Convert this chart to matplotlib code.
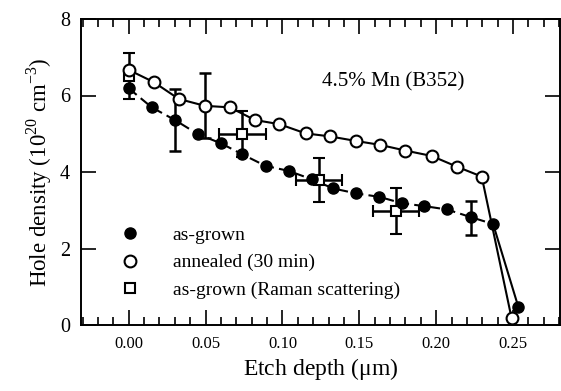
import numpy as np
import matplotlib
matplotlib.use('Agg')
import matplotlib.pyplot as plt
from matplotlib.lines import Line2D

plt.rcParams['font.family'] = ['Liberation Serif', 'DejaVu Serif']
plt.rcParams['mathtext.fontset'] = 'custom'
plt.rcParams['mathtext.rm'] = 'Liberation Serif'

# as-grown (filled circles, dashed line)
grown_x = [0.000, 0.015, 0.030, 0.045, 0.060, 0.074, 0.089, 0.104, 0.119,
           0.133, 0.148, 0.163, 0.178, 0.192, 0.207, 0.2225, 0.237, 0.2535]
grown_y = [6.19, 5.69, 5.36, 4.99, 4.75, 4.46, 4.16, 4.03, 3.81,
           3.57, 3.44, 3.35, 3.18, 3.11, 3.02, 2.82, 2.64, 0.46]

# annealed 30 min (open circles, solid line)
ann_x = [0.000, 0.0163, 0.0326, 0.0495, 0.0658, 0.082, 0.098, 0.115, 0.131,
         0.148, 0.1634, 0.180, 0.197, 0.2134, 0.2296, 0.249]
ann_y = [6.67, 6.35, 5.91, 5.73, 5.69, 5.36, 5.25, 5.01, 4.93,
         4.81, 4.71, 4.56, 4.42, 4.14, 3.88, 0.18]

# as-grown, Raman scattering (open squares with error bars)
raman_x = [0.000, 0.074, 0.124, 0.174]
raman_y = [6.50, 5.00, 3.79, 2.97]
raman_xerr = [0.0, 0.015, 0.015, 0.015]
raman_yerr = [0.60, 0.60, 0.58, 0.60]

# extra error bars on the Hall data
eb_x = [0.0304, 0.0495, 0.2225]
eb_y = [5.36, 5.74, 2.80]
eb_err = [0.80, 0.85, 0.45]

fig = plt.figure(figsize=(5.61, 3.91), dpi=100)
ax = fig.add_axes([81/561, 66/391, 479/561, 306/391])

lw = 1.5
ax.plot(grown_x[:-1], grown_y[:-1], color='k', lw=lw, dashes=(5, 2.5), zorder=2)
ax.plot(grown_x[-2:], grown_y[-2:], color='k', lw=lw, zorder=2)
ax.plot(ann_x, ann_y, color='k', lw=lw, zorder=2)

ax.errorbar(eb_x, eb_y, yerr=eb_err, fmt='none', ecolor='k', elinewidth=1.8,
            capsize=4.5, capthick=1.8, zorder=3)
ax.errorbar(raman_x, raman_y, xerr=raman_xerr, yerr=raman_yerr, fmt='s',
            ms=7, mfc='white', mec='k', mew=1.5, ecolor='k', elinewidth=1.8,
            capsize=4.5, capthick=1.8, zorder=4)

ax.plot(grown_x, grown_y, 'o', ms=8, mfc='k', mec='k', zorder=5)
ax.plot(ann_x, ann_y, 'o', ms=8.5, mfc='white', mec='k', mew=1.5, zorder=5)

ax.set_xlim(-0.031, 0.2805)
ax.set_ylim(0, 8)
ax.set_xticks(np.arange(0, 0.26, 0.05))
ax.set_xticks(np.arange(-0.03, 0.281, 0.01), minor=True)
ax.set_yticks([0, 2, 4, 6, 8])
ax.set_xticklabels(['0.00', '0.05', '0.10', '0.15', '0.20', '0.25'])

ax.tick_params(which='both', direction='in', top=True, right=True, width=1.2)
ax.tick_params(which='major', length=10.5)
ax.tick_params(which='minor', length=5.5)
ax.tick_params(axis='x', labelsize=12, pad=8)
ax.tick_params(axis='y', labelsize=14.5, pad=8)
for s in ax.spines.values():
    s.set_linewidth(1.4)

ax.set_xlabel(r'Etch depth ($\mathrm{\mu}$m)', fontsize=17, labelpad=3)
ax.set_ylabel(r'Hole density (10$^{20}$ cm$^{-3}$)', fontsize=16.5, labelpad=4)

ax.text(0.126, 6.35, '4.5% Mn (B352)', fontsize=15, va='center', ha='left')

handles = [
    Line2D([], [], ls='none', marker='o', ms=8, mfc='k', mec='k'),
    Line2D([], [], ls='none', marker='o', ms=8.5, mfc='white', mec='k', mew=1.5),
    Line2D([], [], ls='none', marker='s', ms=7, mfc='white', mec='k', mew=1.5),
]
labels = ['as-grown', 'annealed (30 min)', 'as-grown (Raman scattering)']
ax.legend(handles, labels, loc='upper left', bbox_to_anchor=(0.082, 0.322),
          frameon=False, fontsize=14, handlelength=1.0, handletextpad=1.7,
          labelspacing=0.5, borderpad=0, borderaxespad=0)

fig.savefig('out.png', dpi=100)
